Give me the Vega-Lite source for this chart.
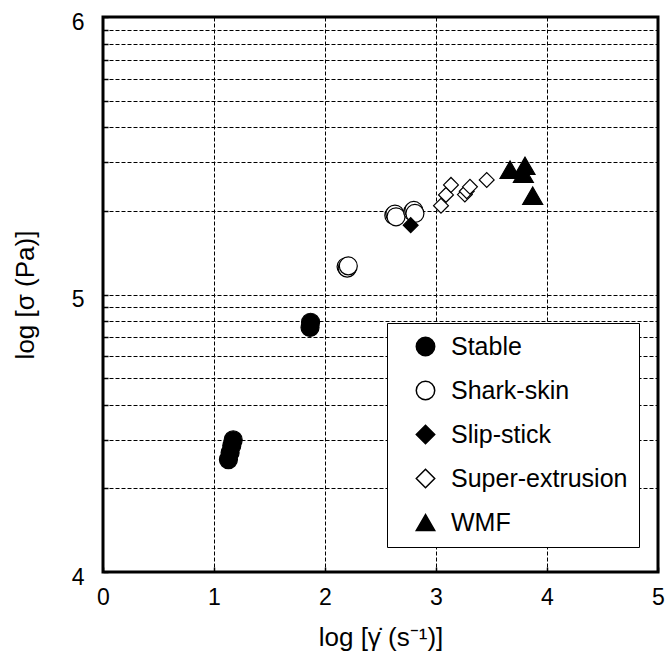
{
  "$schema": "https://vega.github.io/schema/vega-lite/v6.json",
  "width": 555,
  "height": 555,
  "autosize": {"type": "none"},
  "padding": {"left": 103, "top": 17, "right": 7, "bottom": 89},
  "background": "white",
  "config": {
    "view": {"stroke": "black", "strokeWidth": 3},
    "font": "Liberation Sans",
    "axis": {
      "domain": false,
      "grid": true,
      "gridColor": "black",
      "gridOpacity": 1,
      "gridWidth": 1,
      "gridDash": [4, 2],
      "tickColor": "black",
      "tickWidth": 1.5,
      "tickSize": -5,
      "labelColor": "black",
      "labelFont": "Liberation Sans",
      "labelFontSize": 23,
      "titleColor": "black",
      "titleFont": "Liberation Sans",
      "titleFontSize": 26,
      "titleFontWeight": "normal"
    },
    "legend": {
      "orient": "none",
      "legendX": 284,
      "legendY": 306,
      "direction": "vertical",
      "fillColor": "white",
      "strokeColor": "black",
      "strokeWidth": 1,
      "padding": 11,
      "symbolOffset": 15,
      "symbolSize": 340,
      "labelFontSize": 25,
      "labelFont": "Liberation Sans",
      "labelColor": "black",
      "labelLimit": 400,
      "labelOffset": 13,
      "rowPadding": 18
    }
  },
  "data": {
    "values": [
      {"phase": "Stable", "logRate": 1.13, "logStress": 4.405},
      {"phase": "Stable", "logRate": 1.145, "logStress": 4.43},
      {"phase": "Stable", "logRate": 1.16, "logStress": 4.455},
      {"phase": "Stable", "logRate": 1.173, "logStress": 4.476},
      {"phase": "Stable", "logRate": 1.865, "logStress": 4.881},
      {"phase": "Stable", "logRate": 1.87, "logStress": 4.9},
      {"phase": "Shark-skin", "logRate": 2.19, "logStress": 5.1},
      {"phase": "Shark-skin", "logRate": 2.2, "logStress": 5.095},
      {"phase": "Shark-skin", "logRate": 2.21, "logStress": 5.103},
      {"phase": "Shark-skin", "logRate": 2.62, "logStress": 5.285},
      {"phase": "Shark-skin", "logRate": 2.63, "logStress": 5.29},
      {"phase": "Shark-skin", "logRate": 2.64, "logStress": 5.28},
      {"phase": "Shark-skin", "logRate": 2.79, "logStress": 5.298},
      {"phase": "Shark-skin", "logRate": 2.8, "logStress": 5.303},
      {"phase": "Shark-skin", "logRate": 2.81, "logStress": 5.292},
      {"phase": "Slip-stick", "logRate": 2.772, "logStress": 5.25},
      {"phase": "Super-extrusion", "logRate": 3.045, "logStress": 5.32},
      {"phase": "Super-extrusion", "logRate": 3.09, "logStress": 5.359},
      {"phase": "Super-extrusion", "logRate": 3.135, "logStress": 5.395},
      {"phase": "Super-extrusion", "logRate": 3.26, "logStress": 5.36},
      {"phase": "Super-extrusion", "logRate": 3.277, "logStress": 5.372},
      {"phase": "Super-extrusion", "logRate": 3.306, "logStress": 5.388},
      {"phase": "Super-extrusion", "logRate": 3.457, "logStress": 5.413},
      {"phase": "WMF", "logRate": 3.667, "logStress": 5.45},
      {"phase": "WMF", "logRate": 3.787, "logStress": 5.435},
      {"phase": "WMF", "logRate": 3.802, "logStress": 5.464},
      {"phase": "WMF", "logRate": 3.871, "logStress": 5.356}
    ]
  },
  "encoding": {
    "x": {
      "field": "logRate",
      "type": "quantitative",
      "scale": {"domain": [0, 5], "nice": false, "zero": false},
      "axis": {
        "title": "log [γ̇ (s⁻¹)]",
        "values": [0, 1, 2, 3, 4, 5],
        "format": "d",
        "labelPadding": 19,
        "labelFlush": false,
        "titlePadding": 15
      }
    },
    "y": {
      "field": "logStress",
      "type": "quantitative",
      "scale": {"domain": [4, 6], "nice": false, "zero": false},
      "axis": {
        "title": "log [σ (Pa)]",
        "values": [4, 4.30103, 4.47712, 4.60206, 4.69897, 4.77815, 4.8451, 4.90309, 4.95424, 5, 5.30103, 5.47712, 5.60206, 5.69897, 5.77815, 5.8451, 5.90309, 5.95424, 6],
        "labelExpr": "datum.value == 4 || datum.value == 5 || datum.value == 6 ? format(datum.value, 'd') : ''",
        "labelPadding": 24,
        "labelOffset": 5,
        "labelFlush": false,
        "titlePadding": 33
      }
    },
    "shape": {
      "field": "phase",
      "type": "nominal",
      "title": null,
      "scale": {
        "domain": ["Stable", "Shark-skin", "Slip-stick", "Super-extrusion", "WMF"],
        "range": ["circle", "circle", "diamond", "diamond", "triangle-up"]
      },
      "legend": {
        "encode": {
          "symbols": {"update": {"stroke": {"value": "black"}, "strokeWidth": {"value": 1.2}}}
        }
      }
    },
    "fill": {
      "field": "phase",
      "type": "nominal",
      "title": null,
      "scale": {
        "domain": ["Stable", "Shark-skin", "Slip-stick", "Super-extrusion", "WMF"],
        "range": ["black", "white", "black", "white", "black"]
      },
      "legend": {
        "encode": {
          "symbols": {"update": {"stroke": {"value": "black"}, "strokeWidth": {"value": 1.2}}}
        }
      }
    }
  },
  "layer": [
    {
      "transform": [{"filter": {"field": "phase", "oneOf": ["Stable", "Shark-skin"]}}],
      "mark": {"type": "point", "filled": false, "stroke": "black", "strokeWidth": 1.2, "opacity": 1, "size": 324}
    },
    {
      "transform": [{"filter": {"field": "phase", "oneOf": ["Slip-stick", "Super-extrusion"]}}],
      "mark": {"type": "point", "filled": false, "stroke": "black", "strokeWidth": 1.2, "opacity": 1, "size": 220}
    },
    {
      "transform": [{"filter": {"field": "phase", "equal": "WMF"}}],
      "mark": {"type": "point", "filled": false, "stroke": "black", "strokeWidth": 1.2, "opacity": 1, "size": 400}
    }
  ]
}
